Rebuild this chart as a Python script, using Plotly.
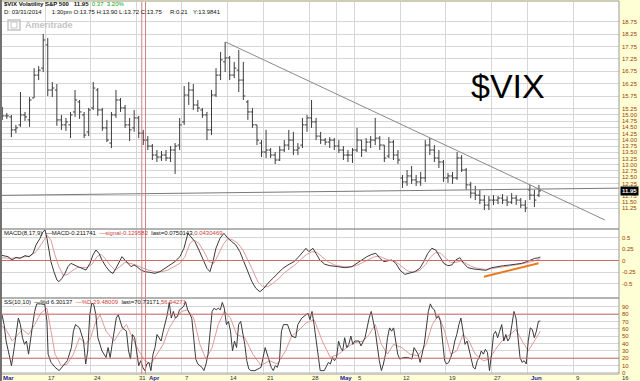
import plotly.graph_objects as go

# ---------------- data ----------------
trading_days = [
    "2014-03-10", "2014-03-11", "2014-03-12", "2014-03-13", "2014-03-14",
    "2014-03-17", "2014-03-18", "2014-03-19", "2014-03-20", "2014-03-21",
    "2014-03-24", "2014-03-25", "2014-03-26", "2014-03-27", "2014-03-28",
    "2014-03-31", "2014-04-01", "2014-04-02", "2014-04-03", "2014-04-04",
    "2014-04-07", "2014-04-08", "2014-04-09", "2014-04-10", "2014-04-11",
    "2014-04-14", "2014-04-15", "2014-04-16", "2014-04-17",
    "2014-04-21", "2014-04-22", "2014-04-23", "2014-04-24", "2014-04-25",
    "2014-04-28", "2014-04-29", "2014-04-30", "2014-05-01", "2014-05-02",
    "2014-05-05", "2014-05-06", "2014-05-07", "2014-05-08", "2014-05-09",
    "2014-05-12", "2014-05-13", "2014-05-14", "2014-05-15", "2014-05-16",
    "2014-05-19", "2014-05-20", "2014-05-21", "2014-05-22", "2014-05-23",
    "2014-05-27", "2014-05-28", "2014-05-29", "2014-05-30",
    "2014-06-02", "2014-06-03", "2014-06-04", "2014-06-05", "2014-06-06",
    "2014-06-09", "2014-06-10", "2014-06-11", "2014-06-12", "2014-06-13",
    "2014-06-16",
]

date_labels = [
    ("2014-03-10", "Mar"), ("2014-03-17", "17"), ("2014-03-24", "24"),
    ("2014-03-31", "31"), ("2014-04-01", "Apr"), ("2014-04-07", "7"),
    ("2014-04-14", "14"), ("2014-04-21", "21"), ("2014-04-28", "28"),
    ("2014-05-01", "May"), ("2014-05-05", "5"), ("2014-05-12", "12"),
    ("2014-05-19", "19"), ("2014-05-27", "27"), ("2014-06-02", "Jun"),
    ("2014-06-09", "9"), ("2014-06-16", "16"),
]

# $VIX half-session bars (two per trading day)
bar_open = [15.20, 14.96, 14.92, 14.40, 14.60, 15.00, 14.80, 15.68, 16.60, 16.88,
            17.81, 16.00, 16.00, 14.80, 14.60, 14.60, 15.12, 15.52, 15.00, 14.32,
            15.28, 16.00, 15.20, 14.48, 13.87, 15.00, 15.60, 15.28, 14.60, 14.48,
            14.88, 14.27, 13.99, 13.75, 13.39, 13.31, 13.39, 13.27, 13.59, 13.79,
            14.72, 15.80, 16.00, 15.40, 15.20, 15.00, 14.40, 15.80, 16.60, 17.13,
            17.29, 16.60, 16.80, 16.40, 15.52, 15.12, 14.60, 13.87, 13.51, 13.59,
            13.39, 13.19, 13.59, 13.79, 13.99, 13.59, 13.79, 14.60, 14.88, 14.72,
            14.15, 13.99, 13.91, 13.99, 13.75, 13.59, 13.39, 13.39, 13.59, 13.99,
            13.59, 13.91, 13.99, 14.07, 13.79, 13.35, 13.91, 13.39, 12.47, 12.31,
            12.55, 12.39, 12.31, 12.47, 13.79, 13.59, 13.27, 13.11, 12.47, 12.55,
            12.47, 13.27, 12.79, 12.19, 11.86, 11.78, 11.58, 11.38, 11.58, 11.58,
            11.66, 11.58, 11.50, 11.66, 11.58, 11.38, 11.99, 11.78, 11.78]
bar_high = [15.32, 15.08, 15.00, 14.60, 15.92, 15.12, 15.72, 16.88, 16.96, 18.25,
            18.09, 16.32, 16.24, 15.00, 14.88, 15.12, 16.00, 15.60, 15.12, 15.28,
            16.32, 16.08, 15.28, 14.80, 15.12, 16.00, 15.68, 15.40, 14.88, 15.20,
            14.96, 14.40, 14.15, 13.83, 13.59, 13.55, 13.59, 13.75, 13.87, 14.88,
            16.16, 16.32, 16.24, 15.60, 15.28, 15.12, 16.00, 16.88, 17.53, 17.93,
            17.37, 17.13, 17.61, 17.13, 15.60, 15.28, 14.60, 13.99, 14.40, 13.67,
            13.51, 13.75, 13.99, 14.40, 14.32, 13.87, 14.88, 15.00, 15.60, 14.88,
            14.32, 14.07, 14.11, 14.07, 13.99, 13.75, 13.59, 13.67, 14.48, 13.99,
            14.07, 14.15, 14.88, 14.15, 13.79, 14.11, 13.99, 13.59, 12.59, 12.79,
            12.95, 12.59, 12.71, 13.99, 14.07, 13.79, 13.59, 13.19, 12.67, 12.71,
            13.51, 13.39, 12.87, 12.31, 12.15, 11.99, 11.78, 11.74, 11.78, 11.74,
            11.82, 11.74, 11.86, 11.78, 11.66, 11.58, 12.19, 11.99, 12.19]
bar_low = [14.80, 14.84, 14.11, 14.27, 14.52, 14.76, 14.52, 15.68, 16.40, 16.72,
           15.76, 15.72, 14.56, 14.40, 14.36, 14.07, 14.92, 14.84, 14.07, 14.15,
           15.20, 14.96, 14.36, 13.91, 13.67, 14.88, 15.12, 14.48, 13.95, 14.32,
           14.07, 13.79, 13.59, 13.19, 13.11, 13.15, 13.15, 13.11, 12.63, 13.59,
           14.60, 15.40, 15.20, 15.12, 14.88, 13.99, 14.19, 15.72, 16.40, 16.72,
           16.40, 16.48, 15.92, 15.60, 14.80, 14.48, 13.79, 13.31, 13.27, 13.27,
           13.03, 13.15, 13.51, 13.59, 13.39, 13.39, 13.67, 14.32, 14.48, 13.99,
           13.83, 13.79, 13.67, 13.59, 13.47, 13.19, 13.11, 13.07, 13.51, 13.31,
           13.51, 13.67, 13.79, 13.59, 13.11, 13.27, 13.19, 13.03, 12.07, 12.15,
           12.23, 12.15, 12.15, 12.31, 13.39, 13.11, 12.87, 12.31, 12.27, 12.23,
           12.39, 12.71, 11.99, 11.66, 11.58, 11.42, 11.18, 11.18, 11.38, 11.42,
           11.42, 11.34, 11.42, 11.38, 11.26, 11.10, 11.58, 11.30, 11.70]
bar_close = [14.96, 14.96, 14.40, 14.48, 15.00, 14.92, 15.60, 16.60, 16.80, 18.01,
             16.00, 16.08, 14.80, 14.60, 14.72, 15.00, 15.60, 15.12, 14.19, 15.20,
             16.08, 15.20, 14.48, 13.99, 15.00, 15.60, 15.28, 14.60, 14.40, 14.88,
             14.27, 13.99, 13.75, 13.39, 13.31, 13.39, 13.27, 13.59, 13.75, 14.60,
             15.80, 16.00, 15.40, 15.28, 15.00, 14.40, 15.80, 16.60, 17.21, 17.29,
             16.60, 16.88, 16.40, 15.76, 15.12, 14.60, 13.99, 13.51, 13.59, 13.39,
             13.19, 13.59, 13.79, 13.99, 13.59, 13.67, 14.60, 14.88, 14.72, 14.15,
             13.99, 13.91, 13.99, 13.75, 13.59, 13.39, 13.39, 13.59, 13.99, 13.59,
             13.91, 13.99, 14.07, 13.79, 13.27, 13.91, 13.39, 13.19, 12.31, 12.55,
             12.39, 12.31, 12.47, 13.79, 13.59, 13.27, 13.11, 12.47, 12.55, 12.47,
             13.27, 12.79, 12.19, 11.86, 11.78, 11.58, 11.38, 11.58, 11.58, 11.66,
             11.58, 11.50, 11.66, 11.58, 11.38, 11.26, 11.78, 11.58, 11.95]

# MACD(8,17,9): time in session units
macd_t = [0.00, 0.88, 1.32, 1.76, 2.20, 2.75, 3.19, 3.63, 3.96, 4.40, 4.73, 4.95, 5.16, 5.38,
          5.60, 5.93, 6.26, 6.48, 6.81, 7.14, 7.47, 7.80, 8.13, 8.57, 9.01, 9.45, 9.89, 10.22,
          10.55, 10.88, 11.21, 11.65, 12.09, 12.42, 12.75, 13.08, 13.41, 13.74, 14.07, 14.40,
          14.73, 15.05, 15.49, 15.93, 16.48, 17.03, 17.58, 18.13, 18.68, 19.23, 19.78, 20.22,
          20.66, 20.99, 21.43, 21.87, 22.31, 22.75, 23.08, 23.41, 23.74, 24.18, 24.62, 25.05,
          25.49, 25.93, 26.37, 26.81, 27.25, 27.69, 28.13, 28.57, 29.01, 29.45, 30.00, 30.55,
          31.10, 31.65, 32.31, 32.86, 33.30, 33.63, 33.96, 34.40, 34.73, 35.16, 35.71, 36.26,
          37.14, 37.91, 38.68, 39.23, 39.78, 40.33, 40.88, 41.32, 41.76, 42.20, 42.64, 43.08,
          43.52, 43.96, 44.51, 45.05, 45.60, 46.15, 46.59, 47.03, 47.47, 47.91, 48.35, 48.79,
          49.23, 49.67, 50.11, 50.55, 50.99, 51.43, 52.09, 52.75, 53.41, 54.07, 54.73, 55.38,
          56.04, 56.70, 57.36, 57.91, 58.35, 58.79, 59.12, 59.40]
macd_val = [0.120, 0.083, 0.011, 0.069, 0.047, 0.105, 0.083, 0.156, 0.337, 0.482, 0.627, 0.663,
            0.482, 0.265, -0.025, -0.243, -0.424, -0.460, -0.388, -0.279, -0.134, -0.062, -0.098,
            -0.134, -0.170, -0.207, -0.062, 0.120, 0.228, 0.156, 0.011, -0.134, -0.243, -0.279,
            -0.170, -0.025, 0.083, 0.011, -0.062, -0.134, -0.098, -0.134, -0.207, -0.243, -0.257,
            -0.279, -0.243, -0.170, -0.098, -0.025, 0.083, 0.265, 0.591, 0.518, 0.409, 0.228,
            0.011, -0.170, -0.243, -0.025, 0.265, 0.482, 0.591, 0.482, 0.409, 0.337, 0.192,
            -0.025, -0.279, -0.460, -0.605, -0.678, -0.605, -0.496, -0.388, -0.279, -0.170,
            -0.098, -0.025, 0.083, 0.192, 0.265, 0.192, 0.265, 0.156, 0.011, -0.083, -0.112,
            -0.134, -0.156, -0.134, -0.062, 0.011, 0.083, 0.134, 0.156, 0.047, -0.025, -0.007,
            0.011, -0.062, -0.207, -0.301, -0.279, -0.243, -0.170, -0.025, 0.156, 0.265, 0.228,
            0.083, -0.062, -0.112, -0.098, 0.011, 0.062, -0.062, -0.156, -0.185, -0.207, -0.214,
            -0.156, -0.127, -0.112, -0.098, -0.083, -0.062, -0.025, 0.018, 0.047, 0.054, 0.075]
signal_t = [0.00, 1.10, 2.20, 3.30, 3.96, 4.62, 5.16, 5.60, 6.04, 6.48, 6.92, 7.36, 7.91, 8.46,
            9.01, 9.56, 10.11, 10.66, 11.10, 11.54, 12.09, 12.64, 13.19, 13.74, 14.29, 14.95,
            15.60, 16.26, 17.03, 17.80, 18.46, 19.12, 19.78, 20.33, 20.88, 21.32, 21.87, 22.42,
            22.97, 23.52, 23.96, 24.51, 25.05, 25.60, 26.15, 26.70, 27.25, 27.80, 28.35, 28.90,
            29.45, 30.00, 30.66, 31.32, 31.98, 32.64, 33.19, 33.74, 34.29, 34.84, 35.38, 36.04,
            36.81, 37.69, 38.46, 39.12, 39.78, 40.44, 41.10, 41.65, 42.20, 42.86, 43.52, 44.18,
            44.84, 45.49, 46.15, 46.81, 47.36, 47.91, 48.46, 49.01, 49.56, 50.11, 50.66, 51.21,
            51.87, 52.53, 53.30, 54.07, 54.84, 55.60, 56.37, 57.14, 57.91, 58.57, 59.12, 59.40]
signal_val = [0.062, 0.047, 0.062, 0.098, 0.192, 0.373, 0.554, 0.446, 0.120, -0.134, -0.315,
              -0.315, -0.228, -0.156, -0.149, -0.156, -0.083, 0.083, 0.134, 0.047, -0.098,
              -0.207, -0.134, -0.040, -0.062, -0.098, -0.156, -0.207, -0.243, -0.243, -0.207,
              -0.134, -0.062, 0.083, 0.373, 0.446, 0.373, 0.192, -0.025, -0.062, 0.120, 0.337,
              0.482, 0.446, 0.373, 0.228, 0.011, -0.243, -0.460, -0.569, -0.569, -0.496, -0.388,
              -0.257, -0.156, -0.062, 0.047, 0.134, 0.192, 0.177, 0.083, -0.025, -0.098, -0.134,
              -0.141, -0.112, -0.054, 0.011, 0.076, 0.098, 0.047, 0.004, -0.025, -0.134, -0.228,
              -0.257, -0.214, -0.083, 0.083, 0.177, 0.156, 0.047, -0.040, -0.040, -0.011, -0.062,
              -0.134, -0.170, -0.192, -0.177, -0.149, -0.127, -0.105, -0.083, -0.054, -0.018,
              0.018, 0.043]

# Slow stochastic SS(10,10)
stk_t = [0.00, 0.22, 0.45, 0.67, 0.99, 1.26, 1.57, 1.79, 2.02, 2.24, 2.47, 2.69, 2.91, 3.14, 3.36,
         3.59, 3.81, 4.04, 4.48, 4.93, 5.16, 5.29, 5.61, 6.05, 6.50, 6.95, 7.40, 7.85, 8.07, 8.30,
         8.74, 9.19, 9.42, 9.64, 9.87, 10.09, 10.31, 10.54, 10.76, 11.21, 11.66, 11.88, 12.11,
         12.33, 12.78, 13.00, 13.23, 13.45, 13.90, 14.13, 14.35, 14.57, 14.80, 15.02, 15.25,
         15.47, 15.70, 15.92, 16.14, 16.37, 16.59, 16.82, 17.04, 17.26, 17.49, 17.71, 17.94,
         18.39, 18.61, 18.83, 19.06, 19.28, 19.51, 19.73, 19.96, 20.18, 20.40, 20.63, 21.08,
         21.52, 21.75, 21.97, 22.20, 22.42, 22.65, 22.87, 23.32, 23.54, 23.77, 23.99, 24.22,
         24.44, 24.66, 24.89, 25.11, 25.34, 25.56, 25.78, 26.01, 26.23, 26.46, 26.91, 27.13,
         27.35, 27.58, 28.03, 28.70, 29.15, 29.37, 29.60, 29.82, 30.04, 30.27, 30.49, 30.72,
         30.94, 31.17, 31.61, 31.84, 32.06, 32.51, 32.74, 33.18, 33.63, 33.86, 34.08, 34.30,
         34.53, 34.75, 34.98, 35.20, 35.65, 35.87, 36.10, 36.32, 36.55, 36.77, 37.00, 37.22,
         37.44, 37.67, 37.89, 38.12, 38.34, 38.57, 38.79, 39.01, 39.46, 39.69, 39.91, 40.13,
         40.58, 40.81, 41.03, 41.26, 41.70, 41.93, 42.15, 42.38, 42.60, 42.83, 43.05, 43.27,
         43.50, 43.72, 43.95, 44.39, 44.84, 45.29, 45.52, 45.96, 46.19, 46.64, 47.09, 47.31,
         47.53, 47.76, 47.98, 48.21, 48.43, 48.65, 48.88, 49.10, 49.33, 49.55, 49.78, 50.00,
         50.22, 50.45, 50.67, 50.90, 51.12, 51.35, 51.57, 51.79, 52.02, 52.24, 52.47, 52.69,
         52.91, 53.14, 53.36, 53.59, 53.81, 54.04, 54.26, 54.48, 54.71, 54.93, 55.16, 55.38,
         55.61, 55.83, 56.05, 56.28, 56.50, 56.73, 56.95, 57.17, 57.40, 57.62, 57.85, 58.07,
         58.30, 58.52, 58.74, 58.97, 59.19, 59.40]
stk_k = [81.4, 79.2, 65.8, 43.4, 25.5, 9.8, 34.5, 56.8, 74.7, 65.8, 47.9, 38.9, 43.4, 25.5, 47.9,
         65.8, 83.7, 94.0, 94.0, 93.0, 70.2, 25.5, 14.3, 7.6, 3.1, 9.8, 16.6, 34.5, 56.8, 65.8,
         61.3, 43.4, 12.1, 30.0, 79.2, 95.0, 93.0, 79.2, 47.9, 30.0, 21.0, 34.5, 21.0, 38.9,
         74.7, 79.2, 70.2, 61.3, 56.8, 30.0, 18.8, 52.3, 47.9, 25.5, 9.8, 16.6, 7.6, 3.1, 12.1,
         14.3, 3.1, 25.5, 34.5, 52.3, 47.9, 43.4, 56.8, 79.2, 96.0, 74.7, 83.7, 74.7, 76.9, 85.9,
         88.1, 90.4, 97.0, 85.9, 74.7, 18.8, 12.1, 9.8, 7.6, 3.1, 12.1, 25.5, 83.7, 88.1, 85.9,
         88.1, 85.9, 96.0, 88.1, 65.8, 70.2, 56.8, 30.0, 43.4, 34.5, 65.8, 70.2, 38.9, 16.6, 5.4,
         3.1, 3.1, 7.6, 34.5, 25.5, 14.3, 7.6, 3.1, 9.8, 7.6, 16.6, 56.8, 65.8, 65.8, 59.1, 50.1,
         47.9, 65.8, 74.7, 79.2, 81.4, 72.5, 83.7, 65.8, 43.4, 21.0, 3.1, 3.1, 9.8, 14.3, 12.1,
         21.0, 16.6, 21.0, 43.4, 34.5, 30.0, 47.9, 34.5, 38.9, 50.1, 38.9, 43.4, 43.4, 36.7, 43.4,
         47.9, 74.7, 83.7, 70.2, 56.8, 16.6, 3.1, 12.1, 25.5, 47.9, 61.3, 56.8, 61.3, 43.4, 25.5,
         18.8, 21.0, 21.0, 18.8, 34.5, 25.5, 14.3, 38.9, 83.7, 94.0, 88.1, 85.9, 74.7, 76.9, 70.2,
         38.9, 16.6, 12.1, 14.3, 21.0, 30.0, 43.4, 52.3, 65.8, 74.7, 56.8, 38.9, 43.4, 30.0, 21.0,
         7.6, 5.4, 16.6, 21.0, 30.0, 25.5, 32.2, 27.7, 3.1, 25.5, 52.3, 56.8, 47.9, 56.8, 65.8,
         43.4, 52.3, 43.4, 47.9, 65.8, 83.7, 74.7, 47.9, 21.0, 14.3, 16.6, 12.1, 43.4, 61.3, 59.1,
         47.9, 56.8, 70.2, 70.7]
std_t = [0.00, 0.67, 1.35, 1.79, 2.47, 3.14, 3.81, 4.48, 5.16, 5.61, 6.05, 6.73, 7.40, 8.07, 8.74,
         9.42, 9.96, 10.54, 10.99, 11.66, 12.56, 13.23, 13.90, 14.57, 15.25, 15.92, 16.59, 17.26,
         17.94, 18.61, 19.28, 19.96, 20.63, 21.30, 21.97, 22.65, 23.32, 23.99, 24.66, 25.34, 26.01,
         26.91, 27.80, 28.70, 29.60, 30.49, 31.39, 32.06, 32.74, 33.63, 34.53, 35.43, 36.32, 37.22,
         38.12, 39.01, 39.91, 40.58, 41.26, 41.93, 42.60, 43.27, 44.17, 45.07, 45.96, 46.86, 47.53,
         48.21, 48.88, 49.55, 50.22, 50.90, 51.57, 52.24, 53.14, 53.81, 54.48, 55.16, 56.05, 56.73,
         57.40, 58.07, 58.74, 59.40]
std_d = [65.8, 59.1, 43.4, 50.1, 59.1, 52.3, 65.8, 81.4, 88.1, 56.8, 25.5, 9.8, 12.1, 25.5, 47.9,
         38.9, 47.9, 70.2, 79.2, 56.8, 43.4, 56.8, 65.8, 47.9, 30.0, 16.6, 12.1, 25.5, 38.9, 61.3,
         74.7, 83.7, 85.9, 74.7, 38.9, 18.8, 34.5, 65.8, 83.7, 74.7, 52.3, 47.9, 25.5, 9.8, 16.6,
         12.1, 30.0, 50.1, 56.8, 68.0, 72.5, 43.4, 21.0, 25.5, 34.5, 41.2, 43.4, 52.3, 65.8, 38.9,
         25.5, 38.9, 34.5, 25.5, 23.3, 38.9, 65.8, 79.2, 56.8, 25.5, 30.0, 52.3, 43.4, 25.5, 16.6,
         18.8, 32.2, 43.4, 52.3, 59.1, 43.4, 30.0, 43.4, 56.9]

# drawn lines (session units, value)
trend_t = [24.8, 66.5]
trend_v = [17.93, 10.78]
flat_t = [0.0, 68.05]
flat_v = [11.77, 12.06]
macd_up_t = [53.2, 59.2]
macd_up_v = [-0.352, -0.061]

price_ticks = [18.75, 18.25, 17.75, 17.25, 16.75, 16.25, 15.75, 15.25, 15.00, 14.75, 14.50,
               14.25, 14.00, 13.75, 13.50, 13.25, 13.00, 12.75, 12.50, 12.25, 11.75, 11.50, 11.25]
macd_ticks = [0.5, 0.25, 0, -0.25, -0.5]
macd_tick_text = ["0.5", "0.25", "0", "-0.25", "-0.5"]
stoch_ticks = [0, 10, 20, 30, 40, 50, 60, 70, 80, 90]
last_price = 11.95
cursor_t = 15.59
quarter_t = 16.0

# ---------------- figure ----------------
W, H = 640, 381
PR = 619 / W
def py(px):
    return 1 - px / H

FONT = "Liberation Sans"
GRID = "#d6d6d6"
AXIS_TXT = "#9a3b00"
YELLOW = "#ffffd6"

bar_x = [i * 0.5 + 0.25 for i in range(len(bar_close))]
day_pos = {d: i for i, d in enumerate(trading_days)}
grid_x = sorted(set([day_pos[d] for d, _ in date_labels]))

fig = go.Figure()
fig.add_trace(go.Ohlc(
    x=bar_x, open=bar_open, high=bar_high, low=bar_low, close=bar_close,
    increasing=dict(line=dict(color="#3c3c3c", width=1)),
    decreasing=dict(line=dict(color="#3c3c3c", width=1)),
    tickwidth=0.45, xaxis="x", yaxis="y", showlegend=False, hoverinfo="skip"))
fig.add_trace(go.Scatter(x=trend_t, y=trend_v, mode="lines", line=dict(color="#8a8a8a", width=1),
                         xaxis="x", yaxis="y", showlegend=False, hoverinfo="skip"))
fig.add_trace(go.Scatter(x=flat_t, y=flat_v, mode="lines", line=dict(color="#7a7a7a", width=1),
                         xaxis="x", yaxis="y", showlegend=False, hoverinfo="skip"))

fig.add_trace(go.Scatter(x=signal_t, y=signal_val, mode="lines", line=dict(color="#e39a9a", width=1),
                         xaxis="x2", yaxis="y2", showlegend=False, hoverinfo="skip"))
fig.add_trace(go.Scatter(x=macd_t, y=macd_val, mode="lines", line=dict(color="#3a3a3a", width=1),
                         xaxis="x2", yaxis="y2", showlegend=False, hoverinfo="skip"))
fig.add_trace(go.Scatter(x=macd_up_t, y=macd_up_v, mode="lines", line=dict(color="#ec7a1c", width=2),
                         xaxis="x2", yaxis="y2", showlegend=False, hoverinfo="skip"))

fig.add_trace(go.Scatter(x=std_t, y=std_d, mode="lines", line=dict(color="#e39a9a", width=1),
                         xaxis="x3", yaxis="y3", showlegend=False, hoverinfo="skip"))
fig.add_trace(go.Scatter(x=stk_t, y=stk_k, mode="lines", line=dict(color="#3a3a3a", width=1),
                         xaxis="x3", yaxis="y3", showlegend=False, hoverinfo="skip"))

xcommon = dict(domain=[0, PR], range=[0, 68.05], showticklabels=False, ticks="",
               tickvals=grid_x, showgrid=True, gridcolor=GRID, gridwidth=1, zeroline=False,
               showline=False, fixedrange=True, rangeslider=dict(visible=False))
ycommon = dict(side="right", ticks="", showgrid=True, gridcolor=GRID, gridwidth=1,
               zeroline=False, showline=False, tickfont=dict(family=FONT, size=6, color=AXIS_TXT),
               fixedrange=True, automargin=False, ticklabelstandoff=2)

fig.update_layout(
    width=W, height=H, margin=dict(l=0, r=0, t=0, b=0, autoexpand=False),
    paper_bgcolor=YELLOW, plot_bgcolor="white",
    xaxis=dict(**xcommon, anchor="y"),
    xaxis2=dict(**xcommon, anchor="y2", matches="x"),
    xaxis3=dict(**xcommon, anchor="y3", matches="x"),
    yaxis=dict(**ycommon, domain=[py(229), py(2)], range=[10.419, 19.535],
               tickvals=price_ticks, ticktext=["%.2f" % v for v in price_ticks], anchor="x"),
    yaxis2=dict(**ycommon, domain=[py(298), py(229)], range=[-0.8152, 0.6848],
                tickvals=macd_ticks, ticktext=macd_tick_text, anchor="x2"),
    yaxis3=dict(**ycommon, domain=[py(374), py(298)], range=[-1.5, 102],
                tickvals=stoch_ticks, ticktext=[str(v) for v in stoch_ticks], anchor="x3"),
    font=dict(family=FONT),
)

shapes = []
shapes.append(dict(type="line", xref="x2", yref="y2", x0=0, x1=68.05, y0=0, y1=0,
                   line=dict(color="#cf6a6a", width=1)))
for yv in [80, 20]:
    shapes.append(dict(type="line", xref="x3", yref="y3", x0=0, x1=68.05, y0=yv, y1=yv,
                       line=dict(color="#cf6a6a", width=1)))
for xr, yr in [("x", "y domain"), ("x2", "y2 domain"), ("x3", "y3 domain")]:
    for xv in [cursor_t, quarter_t]:
        shapes.append(dict(type="line", xref=xr, yref=yr, x0=xv, x1=xv, y0=0, y1=1,
                           line=dict(color="#d08080", width=1)))
for top, bot in [(1, 229), (229, 298), (298, 374)]:
    shapes.append(dict(type="rect", xref="paper", yref="paper", x0=0.001, x1=PR,
                       y0=py(bot), y1=py(top), line=dict(color="#9a9a9a", width=1)))
shapes.append(dict(type="line", xref="paper", yref="paper", x0=0.0015, x1=0.0015, y0=py(381), y1=1,
                   line=dict(color="#707070", width=2)))
shapes.append(dict(type="rect", xref="paper", yref="paper", x0=8 / W, x1=20 / W, y0=py(30), y1=py(20),
                   line=dict(color="#c4c4c4", width=1.5)))
shapes.append(dict(type="rect", xref="paper", yref="paper", x0=11 / W, x1=17 / W, y0=py(28), y1=py(22),
                   line=dict(color="#c4c4c4", width=1)))
fig.update_layout(shapes=shapes)

ann = []
def txt(x, y, t, size=6, color="#111", anchor="left", **kw):
    ann.append(dict(xref="paper", yref="paper", x=x / W, y=py(y), text=t, showarrow=False,
                    xanchor=anchor, yanchor="middle", font=dict(family=FONT, size=size, color=color),
                    **kw))

txt(2, 4.5, "<b>$VIX Volatility S&amp;P 500   11.95</b>  <span style='color:#10a010'>0.37  3.20%</span>")
txt(2, 11.5, "D: 03/31/2014      1:30pm O:13.75 H:13.90 L:13.72 C:13.75")
txt(168, 11.5, "R:0.21")
txt(191, 11.5, "Y:13.9841")
txt(23, 25, "<b>Ameritrade</b>", size=9, color="#c4c4c4")
txt(469, 86, "$VIX", size=34, color="#000")
txt(2, 233, "MACD(8,17,9)  —MACD-0.211741  <span style='color:#d04040'>—signal-0.129582</span>  "
            "last=0.0750143,<span style='color:#d04040'>0.0430469</span>")
txt(2, 301.5, "SS(10,10)  —%d 6.30137  <span style='color:#d04040'>—%D 29.48009</span>  "
              "last=70.73171,<span style='color:#d04040'>56.94271</span>")

for d, lab in date_labels:
    xp = day_pos[d] * (619 / 68.05)
    is_month = not lab.isdigit()
    ann.append(dict(xref="paper", yref="paper", x=(xp + 1) / W, y=py(378),
                    text=("<b>%s</b>" % lab) if is_month else lab,
                    showarrow=False, xanchor="left", yanchor="middle",
                    font=dict(family=FONT, size=6, color="#1a1a9a" if is_month else "#333")))

ann.append(dict(xref="paper", yref="y", x=PR + 0.001, y=last_price, text="<b>11.95</b>",
                showarrow=False, xanchor="left", yanchor="middle", bgcolor="#000",
                font=dict(family=FONT, size=6, color="#fff"), borderpad=1))
fig.update_layout(annotations=ann)

fig.write_html("out.html", config={"displayModeBar": False},
               post_script="document.body.style.margin='0';document.body.style.overflow='hidden';")
